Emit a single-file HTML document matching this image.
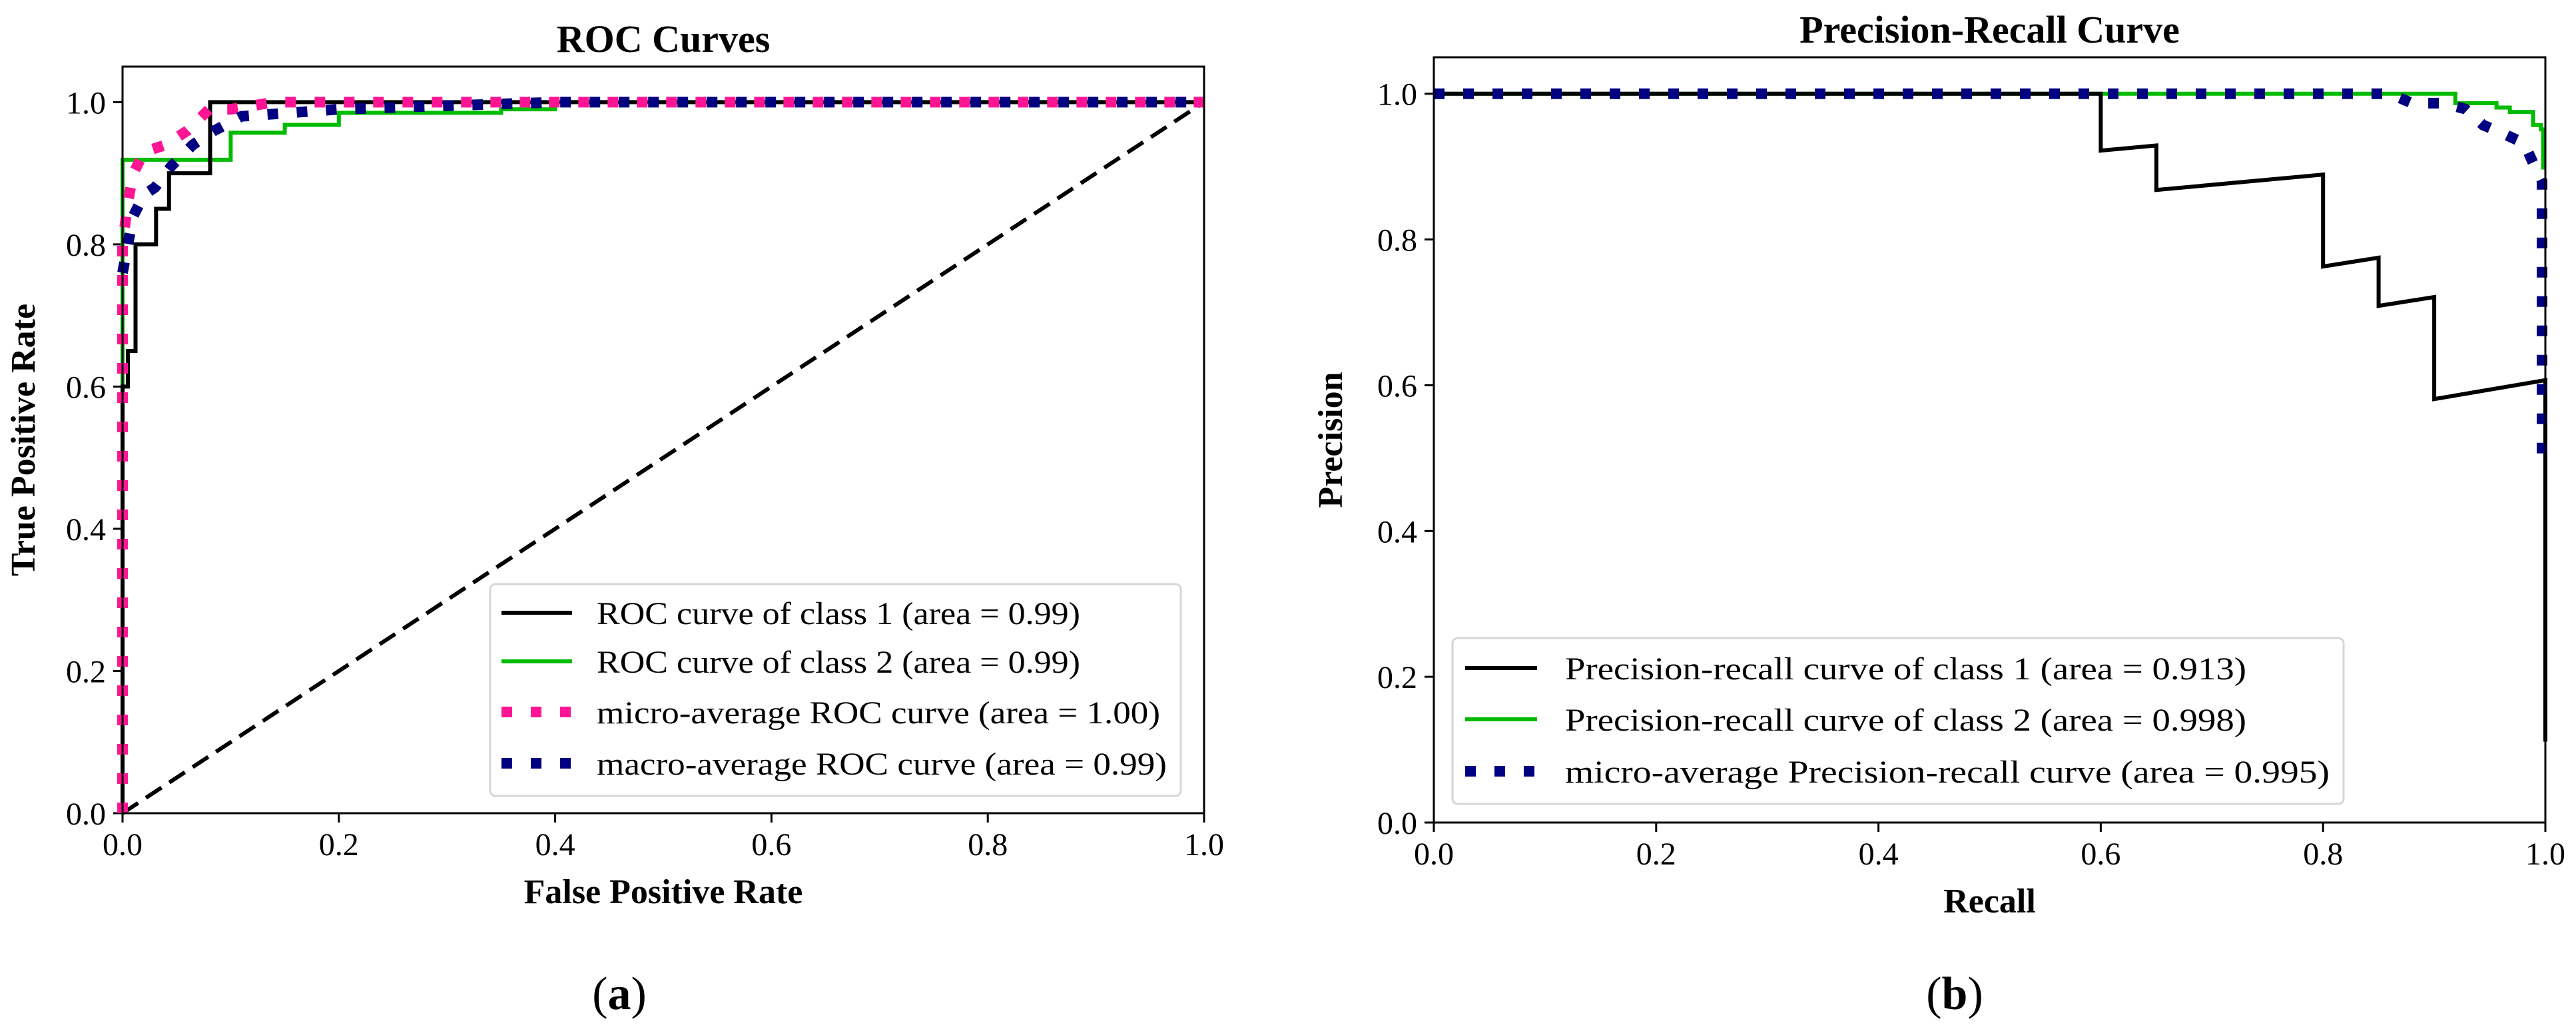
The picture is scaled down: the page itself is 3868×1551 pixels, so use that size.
<!DOCTYPE html>
<html><head><meta charset="utf-8">
<style>
html,body{margin:0;padding:0;background:#fff;}
svg{display:block;}
text{font-family:"Liberation Serif",serif;fill:#000;}
</style></head>
<body>
<svg id="fig" width="3868" height="1551" viewBox="0 0 3868 1551" xmlns="http://www.w3.org/2000/svg">
<rect x="0" y="0" width="3868" height="1551" fill="#fff"/>
<g id="rocPanel"></g>
<g id="prPanel"></g>
<text x="930" y="1515" font-size="70" text-anchor="middle">(<tspan font-weight="bold">a</tspan>)</text>
<text x="2935" y="1515" font-size="70" text-anchor="middle">(<tspan font-weight="bold">b</tspan>)</text>
</svg>
<script>
const tickValues = [0, 0.2, 0.4, 0.6, 0.8, 1.0];
const tickLabels = ["0.0", "0.2", "0.4", "0.6", "0.8", "1.0"];
// ROC data
const rocClass1X = [0, 0, 0.005, 0.005, 0.012, 0.012, 0.031, 0.031, 0.043, 0.043, 0.081, 0.081, 1];
const rocClass1Y = [0, 0.6, 0.6, 0.65, 0.65, 0.8, 0.8, 0.85, 0.85, 0.9, 0.9, 1, 1];
const rocClass2X = [0, 0, 0.1, 0.1, 0.15, 0.15, 0.2, 0.2, 0.35, 0.35, 0.4, 0.4, 1];
const rocClass2Y = [0, 0.919, 0.919, 0.957, 0.957, 0.968, 0.968, 0.985, 0.985, 0.99, 0.99, 1, 1];
const rocMicroX = [0, 0, 0.005, 0.01, 0.02, 0.04, 0.06, 0.08, 0.1, 0.14, 1];
const rocMicroY = [0, 0.8, 0.86, 0.9, 0.93, 0.94, 0.96, 0.99, 0.99, 1, 1];
const rocMacroX = [0, 0.005, 0.01, 0.02, 0.03, 0.045, 0.065, 0.085, 0.11, 0.2, 0.4, 1];
const rocMacroY = [0.76, 0.8, 0.84, 0.87, 0.88, 0.91, 0.94, 0.96, 0.98, 0.99, 1, 1];
const rocChanceX = [0, 1];
const rocChanceY = [0, 1];
// PR data
const prClass1X = [0, 0.6, 0.6, 0.65, 0.65, 0.8, 0.8, 0.85, 0.85, 0.9, 0.9, 1.0, 1.0];
const prClass1Y = [1, 1, 0.922, 0.929, 0.868, 0.889, 0.763, 0.775, 0.709, 0.721, 0.581, 0.607, 0.111];
const prClass2X = [0, 0.919, 0.919, 0.956, 0.956, 0.968, 0.968, 0.989, 0.989, 0.996, 0.996, 0.998, 0.998];
const prClass2Y = [1, 1, 0.987, 0.987, 0.981, 0.981, 0.975, 0.975, 0.957, 0.957, 0.951, 0.951, 0.896];
const prMicroX = [0, 0.86, 0.88, 0.908, 0.928, 0.944, 0.961, 0.981, 0.989, 0.997, 0.997];
const prMicroY = [1, 1, 0.987, 0.987, 0.979, 0.957, 0.946, 0.932, 0.905, 0.88, 0.506];

const NS = "http://www.w3.org/2000/svg";
function mk(tag, attrs, parent) {
  const e = document.createElementNS(NS, tag);
  for (const k in attrs) e.setAttribute(k, attrs[k]);
  parent.appendChild(e);
  return e;
}
function axes(g, L, R, T, B, ymax) {
  return {
    sx: v => L + v * (R - L),
    sy: v => B - v / ymax * (B - T)
  };
}
function drawLine(g, ax, xs, ys, stroke, width, dash, name) {
  let d = "";
  for (let i = 0; i < xs.length; i++) d += (i ? "L" : "M") + ax.sx(xs[i]).toFixed(1) + "," + ax.sy(ys[i]).toFixed(1);
  const p = mk("path", {d: d, fill: "none", stroke: stroke, "stroke-width": width, "stroke-linejoin": "miter"}, g);
  if (dash) p.setAttribute("stroke-dasharray", dash);
  
  
  return p;
}
function frame(g, L, R, T, B, ax, title, xlab, ylab, ylabX) {
  for (let i = 0; i < tickValues.length; i++) {
    const x = ax.sx(tickValues[i]);
    const t1 = mk("line", {x1: x, y1: B, x2: x, y2: B + 14, stroke: "#000", "stroke-width": 3}, g);
    
    
    const l1 = mk("text", {x: x, y: B + 63, "font-size": 48, "text-anchor": "middle"}, g);
    l1.textContent = tickLabels[i];
    
    
    const y = ax.sy(tickValues[i]);
    const t2 = mk("line", {x1: L - 14, y1: y, x2: L, y2: y, stroke: "#000", "stroke-width": 3}, g);
    
    
    const l2 = mk("text", {x: L - 25, y: y + 17, "font-size": 48, "text-anchor": "end"}, g);
    l2.textContent = tickLabels[i];
    
    
  }
  const tt = mk("text", {x: (L + R) / 2, y: T - 22, "font-size": 58, "font-weight": "bold", "text-anchor": "middle"}, g);
  tt.textContent = title;
  
  
  const xl = mk("text", {x: (L + R) / 2, y: B + 135, "font-size": 52, "font-weight": "bold", "text-anchor": "middle"}, g);
  xl.textContent = xlab;
  
  
  const cy = (T + B) / 2;
  const yl = mk("text", {x: ylabX, y: cy, "font-size": 52, "font-weight": "bold", "text-anchor": "middle", transform: "rotate(-90 " + ylabX + " " + cy + ")"}, g);
  yl.textContent = ylab;
  
  
}
function spines(g, L, R, T, B) {
  const r = mk("rect", {x: L, y: T, width: R - L, height: B - T, fill: "none", stroke: "#000", "stroke-width": 3}, g);
  
  
}
function legend(g, x, y, w, h, rows, rowY, hx1, hx2, tx, twidths) {
  const lg = mk("g", {}, g);
  
  
  mk("rect", {x: x, y: y, width: w, height: h, rx: 8, fill: "#fff", "fill-opacity": 0.85, stroke: "#d6d6d6", "stroke-width": 3}, lg);
  rows.forEach((r, i) => {
    const yy = rowY[i];
    const e = mk("g", {}, lg);
    
    
    const ln = mk("line", {x1: hx1, y1: yy, x2: hx2, y2: yy, stroke: r.c, "stroke-width": r.w}, e);
    if (r.d) ln.setAttribute("stroke-dasharray", r.d);
    const t = mk("text", {x: tx, y: yy + 17, "font-size": 48, textLength: twidths[i], lengthAdjust: "spacingAndGlyphs"}, e);
    t.textContent = r.t;
  });
}

// ROC panel
(function () {
  const g = document.getElementById("rocPanel");
  const L = 184, R = 1808, T = 100, B = 1221;
  const ax = axes(g, L, R, T, B, 1.05);
  frame(g, L, R, T, B, ax, "ROC Curves", "False Positive Rate", "True Positive Rate", 52);
  drawLine(g, ax, rocChanceX, rocChanceY, "#000", 6, "28,14", "chance-diagonal");
  drawLine(g, ax, rocClass2X, rocClass2Y, "#00bb00", 6, null, "roc-class-2");
  drawLine(g, ax, rocClass1X, rocClass1Y, "#000", 6, null, "roc-class-1");
  drawLine(g, ax, rocMicroX, rocMicroY, "#ff1493", 16, "16,28", "roc-micro-average");
  drawLine(g, ax, rocMacroX, rocMacroY, "#000080", 16, "16,28", "roc-macro-average");
  spines(g, L, R, T, B);
  legend(g, 736, 877, 1037, 318,
    [{c: "#000", w: 6, t: "ROC curve of class 1 (area = 0.99)"},
     {c: "#00bb00", w: 6, t: "ROC curve of class 2 (area = 0.99)"},
     {c: "#ff1493", w: 16, d: "16,28", t: "micro-average ROC curve (area = 1.00)"},
     {c: "#000080", w: 16, d: "16,28", t: "macro-average ROC curve (area = 0.99)"}],
    [920, 993, 1069, 1146], 753, 859, 896, [726, 726, 846, 856]);
})();

// PR panel
(function () {
  const g = document.getElementById("prPanel");
  const L = 2153, R = 3822, T = 86, B = 1235;
  const ax = axes(g, L, R, T, B, 1.05);
  frame(g, L, R, T, B, ax, "Precision-Recall Curve", "Recall", "Precision", 2015);
  drawLine(g, ax, prClass2X, prClass2Y, "#00bb00", 6, null, "pr-class-2");
  drawLine(g, ax, prClass1X, prClass1Y, "#000", 6, null, "pr-class-1");
  drawLine(g, ax, prMicroX, prMicroY, "#000080", 16, "16,28", "pr-micro-average");
  spines(g, L, R, T, B);
  legend(g, 2181, 958, 1338, 249,
    [{c: "#000", w: 6, t: "Precision-recall curve of class 1 (area = 0.913)"},
     {c: "#00bb00", w: 6, t: "Precision-recall curve of class 2 (area = 0.998)"},
     {c: "#000080", w: 16, d: "16,28", t: "micro-average Precision-recall curve (area = 0.995)"}],
    [1003, 1080, 1158], 2200, 2308, 2350, [1023, 1023, 1148]);
})();
</script>
</body></html>
